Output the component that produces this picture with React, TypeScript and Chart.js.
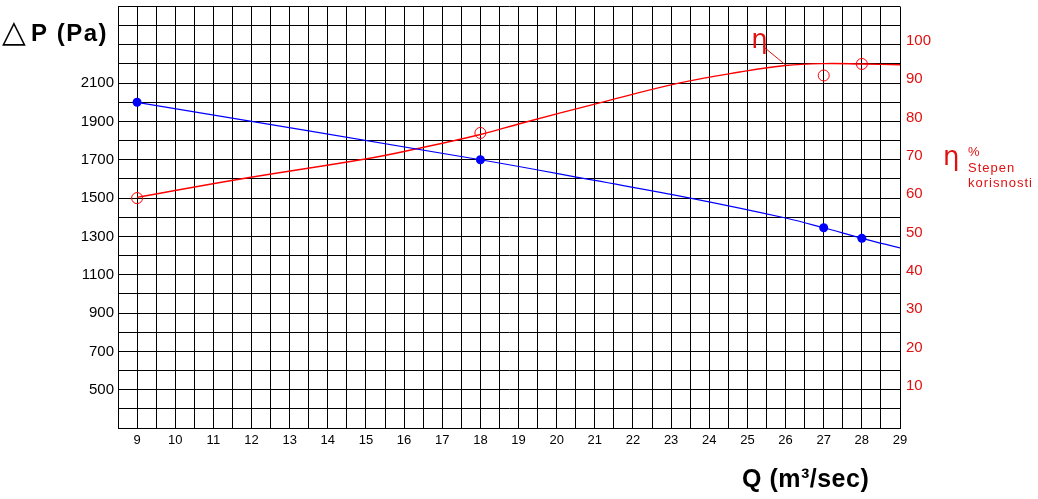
import { useEffect, useRef } from 'react';
import { Chart, registerables } from 'chart.js';

Chart.register(...registerables);

// Measured points (markers)
const qMeasured = [9, 18, 27, 28];
const pressureMeasured = [2000, 1700, 1345, 1290];
const efficiencyMeasured = [60, 77, 92, 95];

// Drawn characteristic curves
const pressureCurveQ = [9, 18, 21, 23.5, 26, 27, 28, 29];
const pressureCurve = [2000, 1700, 1592, 1500, 1396, 1345, 1290, 1240];
const efficiencyCurveQ = [9, 11.6, 15.1, 16.3, 18, 19.1, 21.1, 23.2, 24.8, 26, 27, 28, 29];
const efficiencyCurve = [60.2, 64.8, 70.4, 72.8, 76.6, 79.6, 84.8, 90, 92.9, 94.6, 95.1, 95, 94.8];

// Tick labels
const qTickLabels = [9, 10, 11, 12, 13, 14, 15, 16, 17, 18, 19, 20, 21, 22, 23, 24, 25, 26, 27, 28, 29];
const pressureTickLabels = [500, 700, 900, 1100, 1300, 1500, 1700, 1900, 2100];
const efficiencyTickLabels = [10, 20, 30, 40, 50, 60, 70, 80, 90, 100];

// Axis ranges / grid steps
const Q_MIN = 8.5;
const Q_MAX = 29;
const Q_GRID = 0.5;
const P_MIN = 300;
const P_MAX = 2500;
const P_GRID = 100;
const P_AT_ZERO_EFF = 300;
const P_PER_PERCENT = 20;
const E_MIN = (P_MIN - P_AT_ZERO_EFF) / P_PER_PERCENT;
const E_MAX = (P_MAX - P_AT_ZERO_EFF) / P_PER_PERCENT;

const RED = '#ff0000';
const RED_TEXT = '#e01010';
const BLUE = '#0000ff';

const zip = (xs: number[], ys: number[]) => xs.map((x, i) => ({ x, y: ys[i] }));

const annotationPlugin = {
  id: 'annotations',
  afterDraw(chart: any) {
    const ctx: CanvasRenderingContext2D = chart.ctx;
    const xs = chart.scales.x;
    const ye = chart.scales.y1;
    const area = chart.chartArea;
    ctx.save();
    ctx.textAlign = 'left';
    ctx.textBaseline = 'alphabetic';

    // Y axis title
    ctx.fillStyle = '#000';
    ctx.font = '31px "DejaVu Sans"';
    (ctx as any).letterSpacing = '0px';
    ctx.fillText('△', 2, 42);
    ctx.font = 'bold 24px "Liberation Sans"';
    (ctx as any).letterSpacing = '1.5px';
    ctx.fillText('P (Pa)', 31, 41);

    // X axis title
    ctx.font = 'bold 25px "Liberation Sans"';
    (ctx as any).letterSpacing = '0.5px';
    ctx.fillText('Q (m³/sec)', 742, 487);

    // eta marker with leader line
    ctx.fillStyle = RED_TEXT;
    ctx.strokeStyle = RED_TEXT;
    (ctx as any).letterSpacing = '0px';
    ctx.font = '26px "DejaVu Sans"';
    ctx.fillText('η', xs.getPixelForValue(25.1), ye.getPixelForValue(99.3));
    ctx.lineWidth = 1;
    ctx.beginPath();
    ctx.moveTo(xs.getPixelForValue(25.41), ye.getPixelForValue(99.6));
    ctx.lineTo(xs.getPixelForValue(25.98), ye.getPixelForValue(94.9));
    ctx.stroke();

    // right legend
    ctx.font = '26px "DejaVu Sans"';
    ctx.fillText('η', area.right + 43, 165);
    ctx.font = '13px "Liberation Sans"';
    (ctx as any).letterSpacing = '1px';
    ctx.fillText('%', area.right + 68, 156);
    ctx.fillText('Stepen', area.right + 68, 171.5);
    ctx.fillText('korisnosti', area.right + 68, 187);
    ctx.restore();
  },
};

export default function App() {
  const ref = useRef<HTMLCanvasElement>(null);

  useEffect(() => {
    if (!ref.current) return;
    const chart = new Chart(ref.current, {
      type: 'line',
      data: {
        datasets: [
          {
            label: 'ΔP markers',
            data: zip(qMeasured, pressureMeasured),
            yAxisID: 'y',
            showLine: false,
            pointRadius: 4.5,
            pointBackgroundColor: BLUE,
            pointBorderColor: BLUE,
            pointBorderWidth: 0,
            order: 0,
          },
          {
            label: 'η markers',
            data: zip(qMeasured, efficiencyMeasured),
            yAxisID: 'y1',
            showLine: false,
            pointRadius: 5.5,
            pointBackgroundColor: 'rgba(0,0,0,0)',
            pointBorderColor: RED,
            pointBorderWidth: 1,
            order: 0,
          },
          {
            label: 'ΔP',
            data: zip(pressureCurveQ, pressureCurve),
            yAxisID: 'y',
            borderColor: BLUE,
            borderWidth: 1.2,
            pointRadius: 0,
            tension: 0.4,
            fill: false,
            order: 1,
          },
          {
            label: 'η',
            data: zip(efficiencyCurveQ, efficiencyCurve),
            yAxisID: 'y1',
            borderColor: RED,
            borderWidth: 1.4,
            pointRadius: 0,
            tension: 0.4,
            fill: false,
            order: 1,
          },
        ],
      },
      options: {
        animation: false,
        responsive: false,
        events: [],
        layout: { padding: { top: 5, left: 0, right: 0, bottom: 0 } },
        plugins: { legend: { display: false }, tooltip: { enabled: false } },
        scales: {
          x: {
            type: 'linear',
            min: Q_MIN,
            max: Q_MAX,
            afterBuildTicks: (s: any) => {
              const t = [];
              for (let v = Q_MIN; v <= Q_MAX + 1e-9; v += Q_GRID) t.push({ value: v });
              s.ticks = t;
            },
            afterFit: (s: any) => {
              s.height = 71;
              s.paddingLeft = 0;
              s.paddingRight = 0;
            },
            grid: { color: '#000', lineWidth: 1, drawTicks: false },
            border: { color: '#000', width: 1 },
            ticks: {
              autoSkip: false,
              maxRotation: 0,
              padding: 5,
              color: '#000',
              font: { family: '"Liberation Sans"', size: 13 },
              callback: (v: any) => (qTickLabels.includes(Number(v)) ? String(v) : ''),
            },
          },
          y: {
            type: 'linear',
            position: 'left',
            min: P_MIN,
            max: P_MAX,
            afterBuildTicks: (s: any) => {
              const t = [];
              for (let v = P_MIN; v <= P_MAX; v += P_GRID) t.push({ value: v });
              s.ticks = t;
            },
            afterFit: (s: any) => {
              s.width = 118;
              s.paddingTop = 0;
              s.paddingBottom = 0;
            },
            grid: { color: '#000', lineWidth: 1, drawTicks: false },
            border: { color: '#000', width: 1 },
            ticks: {
              autoSkip: false,
              padding: 4,
              color: '#000',
              font: { family: '"Liberation Sans"', size: 15 },
              callback: (v: any) => (pressureTickLabels.includes(Number(v)) ? String(v) : ''),
            },
          },
          y1: {
            type: 'linear',
            position: 'right',
            min: E_MIN,
            max: E_MAX,
            afterBuildTicks: (s: any) => {
              s.ticks = efficiencyTickLabels.map((v) => ({ value: v }));
            },
            afterFit: (s: any) => {
              s.width = 138;
              s.paddingTop = 0;
              s.paddingBottom = 0;
            },
            grid: { drawOnChartArea: false, drawTicks: false },
            border: { display: false },
            ticks: {
              autoSkip: false,
              padding: 6,
              labelOffset: -4,
              color: RED_TEXT,
              font: { family: '"Liberation Sans"', size: 15 },
              callback: (v: any) => String(v),
            },
          },
        },
      },
      plugins: [annotationPlugin],
    } as any);
    return () => chart.destroy();
  }, []);

  return (
    <div style={{ position: 'absolute', left: 0, top: 0, width: 1038, height: 499, background: '#fff' }}>
      <canvas ref={ref} width={1038} height={499} style={{ display: 'block' }} />
    </div>
  );
}
